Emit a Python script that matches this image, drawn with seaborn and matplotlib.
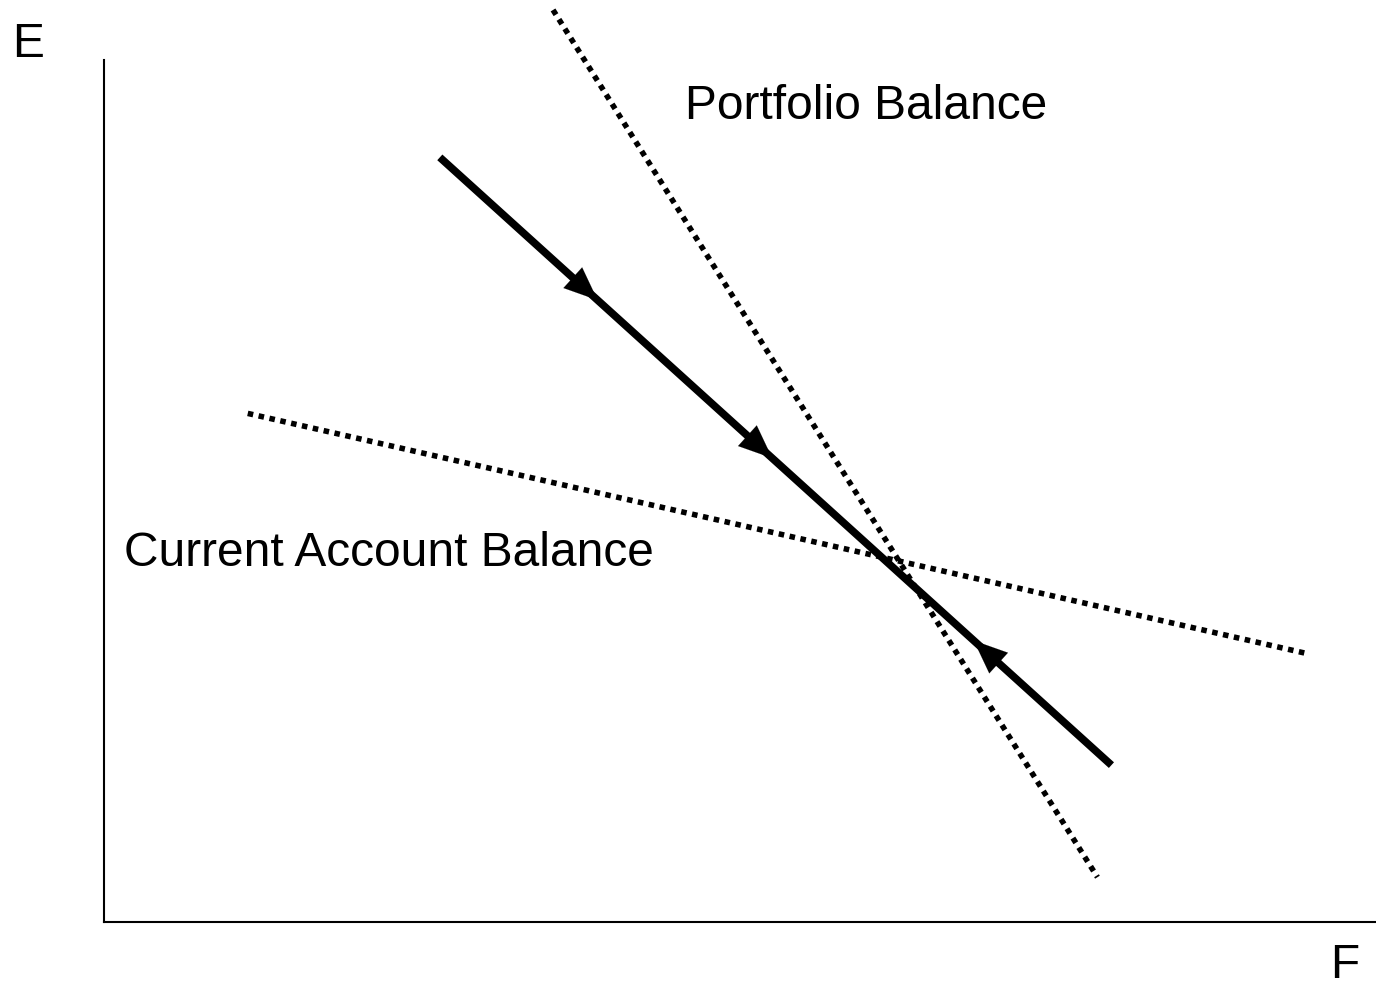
import numpy as np
import pandas as pd
import matplotlib.pyplot as plt
import seaborn as sns

# line end points in axis units (F across, E up)
pb_f = [3.53, 7.81]
pb_e = [10.58, 0.52]
ca_f = [1.13, 9.44]
ca_e = [5.90, 3.12]
path_f = [2.64, 7.92]
path_e = [8.87, 1.82]
# arrow tips as fraction along the adjustment path, direction (+1 down, -1 back up)
arrow_t = [0.235, 0.495, 0.795]
arrow_dir = [1, 1, -1]

sns.set_style("white")
plt.rcParams['font.family'] = ['Liberation Sans', 'DejaVu Sans']
plt.rcParams['text.color'] = 'black'

fig = plt.figure(figsize=(13.76, 9.91), dpi=100)
ax = fig.add_axes([0.0756, 0.0696, 0.9244, 0.8699])
ax.set_xlim(0, 10)
ax.set_ylim(0, 10)

for f, e in [(pb_f, pb_e), (ca_f, ca_e)]:
    sns.lineplot(data=pd.DataFrame({"F": f, "E": e}), x="F", y="E", ax=ax,
                 color="black", lw=4, clip_on=False)
    ax.lines[-1].set_dashes((1, 1))
    ax.lines[-1].set_dash_capstyle("butt")
sns.lineplot(data=pd.DataFrame({"F": path_f, "E": path_e}), x="F", y="E", ax=ax,
             color="black", lw=5.5, clip_on=False)
ax.lines[-1].set_solid_capstyle("butt")

d = np.array([path_f[1] - path_f[0], path_e[1] - path_e[0]])
p0 = np.array([path_f[0], path_e[0]])
for t, s in zip(arrow_t, arrow_dir):
    tip = p0 + t * d
    tail = tip - s * 0.03 * d
    ax.annotate("", xy=tip, xytext=tail,
                arrowprops=dict(arrowstyle="-|>,head_length=2.4,head_width=1.0",
                                color="black", lw=0.1, shrinkA=0, shrinkB=0))

for side in ["top", "right"]:
    ax.spines[side].set_visible(False)
for side in ["left", "bottom"]:
    ax.spines[side].set_linewidth(1.5)
    ax.spines[side].set_color("black")
ax.set_xticks([])
ax.set_yticks([])
ax.set_xlabel("")
ax.set_ylabel("")

fig.text(0.009, 0.955, "E", fontsize=34.5, va="center", ha="left")
fig.text(0.967, 0.026, "F", fontsize=34.5, va="center", ha="left")
ax.text(4.57, 9.46, "Portfolio Balance", fontsize=34.5, va="center", ha="left")
ax.text(0.16, 4.27, "Current Account Balance", fontsize=34.5, va="center", ha="left")

fig.savefig("out.png", dpi=100)
